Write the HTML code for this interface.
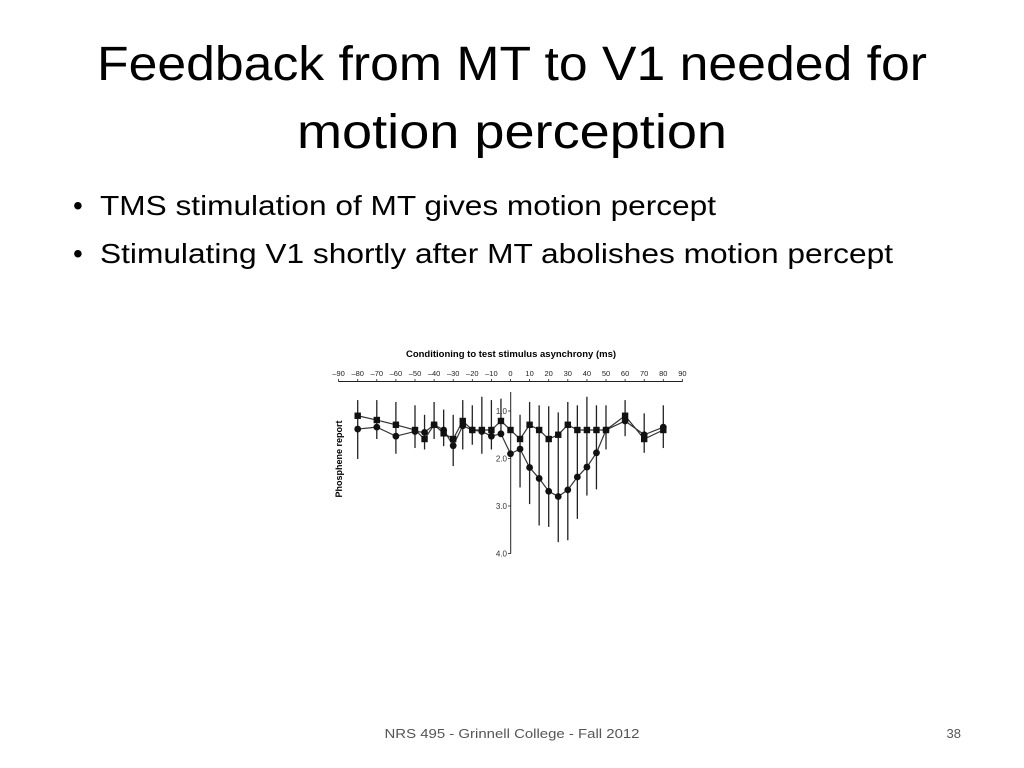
<!DOCTYPE html>
<html><head><meta charset="utf-8"><style>
html,body{margin:0;padding:0;background:#fff;width:1024px;height:768px;overflow:hidden}
svg{display:block}
</style></head><body>
<svg id="slide" width="1024" height="768" viewBox="0 0 1024 768" xmlns="http://www.w3.org/2000/svg" font-family="Liberation Sans, sans-serif">
<rect width="1024" height="768" fill="#fff"/>
<text x="512" y="80" font-size="48" text-anchor="middle" textLength="830" lengthAdjust="spacingAndGlyphs">Feedback from MT to V1 needed for</text>
<text x="512" y="148" font-size="48" text-anchor="middle" textLength="430" lengthAdjust="spacingAndGlyphs">motion perception</text>
<text x="73" y="215" font-size="28">•</text>
<text x="100" y="215" font-size="28" textLength="616" lengthAdjust="spacingAndGlyphs">TMS stimulation of MT gives motion percept</text>
<text x="73" y="263" font-size="28">•</text>
<text x="100" y="263" font-size="28" textLength="793" lengthAdjust="spacingAndGlyphs">Stimulating V1 shortly after MT abolishes motion percept</text>
<text x="512" y="738" font-size="13" fill="#555" text-anchor="middle" textLength="255" lengthAdjust="spacingAndGlyphs">NRS 495 - Grinnell College - Fall 2012</text>
<text x="961" y="738" font-size="13" fill="#555" text-anchor="end">38</text>
<g id="chart"></g>
</svg>
<script>
const xs=[-80,-70,-60,-50,-45,-40,-35,-30,-25,-20,-15,-10,-5,0,5,10,15,20,25,30,35,40,45,50,60,70,80];
const squares=[1.10,1.19,1.29,1.40,1.59,1.29,1.47,1.59,1.21,1.40,1.40,1.40,1.21,1.40,1.59,1.29,1.40,1.59,1.50,1.29,1.40,1.40,1.40,1.40,1.10,1.59,1.40];
const circles=[1.38,1.34,1.53,1.43,1.45,1.29,1.40,1.73,1.31,1.40,1.43,1.53,1.48,1.90,1.80,2.19,2.42,2.69,2.80,2.66,2.39,2.18,1.88,1.40,1.21,1.50,1.34];
const errLow=[0.77,0.77,0.81,0.88,1.08,0.81,0.97,1.08,0.77,0.88,0.70,0.77,0.74,null,1.08,0.81,0.88,0.90,1.03,0.81,0.88,0.70,0.88,0.88,0.77,1.05,0.88];
const errHigh=[2.01,1.59,1.90,1.78,1.81,1.59,1.74,2.16,1.81,1.71,1.90,1.81,1.53,null,2.61,2.96,3.41,3.44,3.76,3.72,3.27,2.78,2.65,1.81,1.53,1.88,1.78];
const xTicks=[-90,-80,-70,-60,-50,-40,-30,-20,-10,0,10,20,30,40,50,60,70,80,90];
const yTicks=[1.0,2.0,3.0,4.0];
const NS="http://www.w3.org/2000/svg";
const g=document.getElementById('chart');
const X=v=>510.5+v*1.91;
const Y=v=>411+(v-1)*47.5;
function mk(t,a){const e=document.createElementNS(NS,t);for(const k in a)e.setAttribute(k,a[k]);g.appendChild(e);return e;}
let e;
e=mk('text',{x:511,y:357,'font-size':9.5,'font-weight':'bold','text-anchor':'middle'});e.textContent='Conditioning to test stimulus asynchrony (ms)';


e=mk('line',{x1:X(-90),x2:X(90),y1:381.5,y2:381.5,stroke:'#222','stroke-width':1});


xTicks.forEach(t=>{
 e=mk('line',{x1:X(t),x2:X(t),y1:379,y2:382,stroke:'#222','stroke-width':0.8});
 
 
 e=mk('text',{x:X(t),y:376,'font-size':7.5,'text-anchor':'middle',fill:'#222'});e.textContent=(t<0?'\u2013'+(-t):t);
 
 
});
e=mk('line',{x1:510.7,x2:510.7,y1:Y(0.6),y2:Y(4.0),stroke:'#222','stroke-width':1});


yTicks.forEach(t=>{
 e=mk('line',{x1:508,x2:511,y1:Y(t),y2:Y(t),stroke:'#222','stroke-width':0.8});
 
 
 e=mk('text',{x:507,y:Y(t)+3,'font-size':8,'text-anchor':'end',fill:'#333'});e.textContent=t.toFixed(1);
 
 
});
e=mk('text',{x:0,y:0,'font-size':9,'font-weight':'bold','text-anchor':'middle',transform:'translate(342,459) rotate(-90)'});e.textContent='Phosphene report';


xs.forEach((x,i)=>{ if(errLow[i]==null)return;
 e=mk('line',{x1:X(x),x2:X(x),y1:Y(errLow[i]),y2:Y(errHigh[i]),stroke:'#222','stroke-width':1.3});
 
 
});
e=mk('polyline',{points:xs.map((x,i)=>X(x)+','+Y(circles[i])).join(' '),fill:'none',stroke:'#333','stroke-width':1.2});


e=mk('polyline',{points:xs.map((x,i)=>X(x)+','+Y(squares[i])).join(' '),fill:'none',stroke:'#333','stroke-width':1.2});


xs.forEach((x,i)=>{
 e=mk('circle',{cx:X(x),cy:Y(circles[i]),r:3.4,fill:'#111'});
 
 
 e=mk('rect',{x:X(x)-3.2,y:Y(squares[i])-3.2,width:6.4,height:6.4,fill:'#111'});
 
 
});
</script>
</body></html>
